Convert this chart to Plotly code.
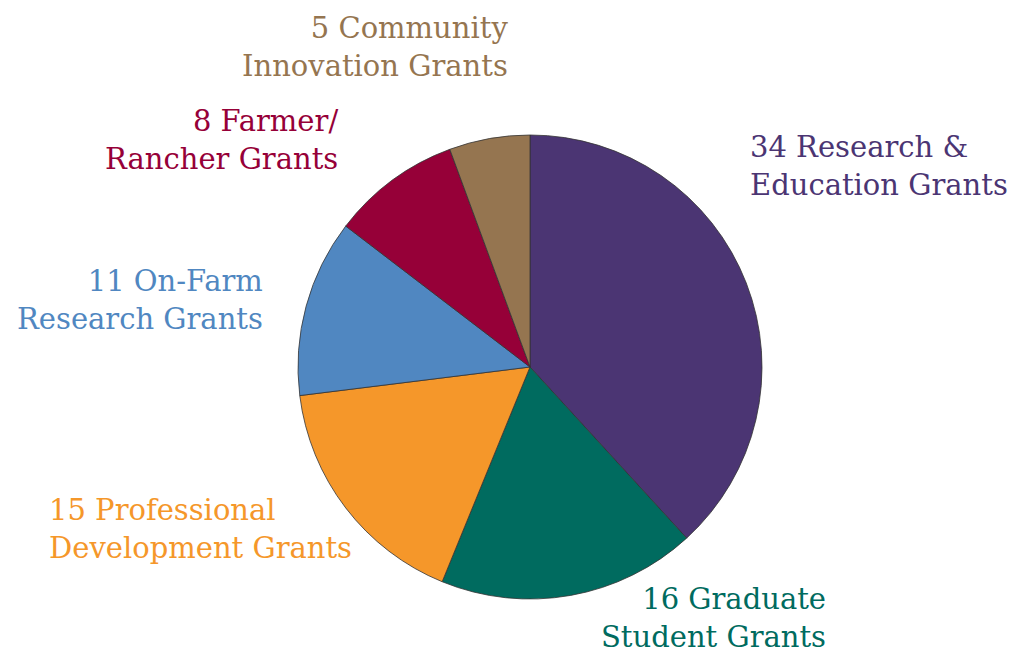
import plotly.graph_objects as go

counts = [34, 16, 15, 11, 8, 5]
first_lines = ["Research &", "Graduate", "Professional", "On-Farm", "Farmer/", "Community"]
second_lines = ["Education Grants", "Student Grants", "Development Grants", "Research Grants",
                "Rancher Grants", "Innovation Grants"]
colors = ["#4B3573", "#006B5F", "#F5972A", "#5087C1", "#960038", "#957550"]

W, H = 1034, 656
OFF = 8  # page body margin
# label anchor positions in pixels (x, y-center of block, xanchor)
label_pos = [(748, 166, "left"), (828, 618, "right"), (47, 529, "left"),
             (265, 300, "right"), (340, 140, "right"), (510, 47, "right")]

def px_x(x):
    return (x - OFF) / W

def px_y(y):
    return 1 - (y - OFF) / H

fig = go.Figure(go.Pie(
    values=counts,
    labels=[f"{c} {a} {b}" for c, a, b in zip(counts, first_lines, second_lines)],
    marker=dict(colors=colors, line=dict(color="#333333", width=0.8)),
    sort=False, direction="clockwise", rotation=0,
    textinfo="none", hoverinfo="label", showlegend=False,
    domain=dict(x=[px_x(298), px_x(762)], y=[px_y(599), px_y(135)]),
))

for c, a, b, col, (px, py, xa) in zip(counts, first_lines, second_lines, colors, label_pos):
    fig.add_annotation(
        x=px_x(px), y=px_y(py), xref="paper", yref="paper",
        text=f"{c} {a}<br>{b}", showarrow=False,
        xanchor=xa, yanchor="middle", align=xa,
        font=dict(family="Georgia, 'DejaVu Serif', serif", size=29, color=col),
    )

fig.update_layout(width=W, height=H, margin=dict(l=0, r=0, t=0, b=0),
                  paper_bgcolor="white", plot_bgcolor="white")
fig.write_html("out.html")
